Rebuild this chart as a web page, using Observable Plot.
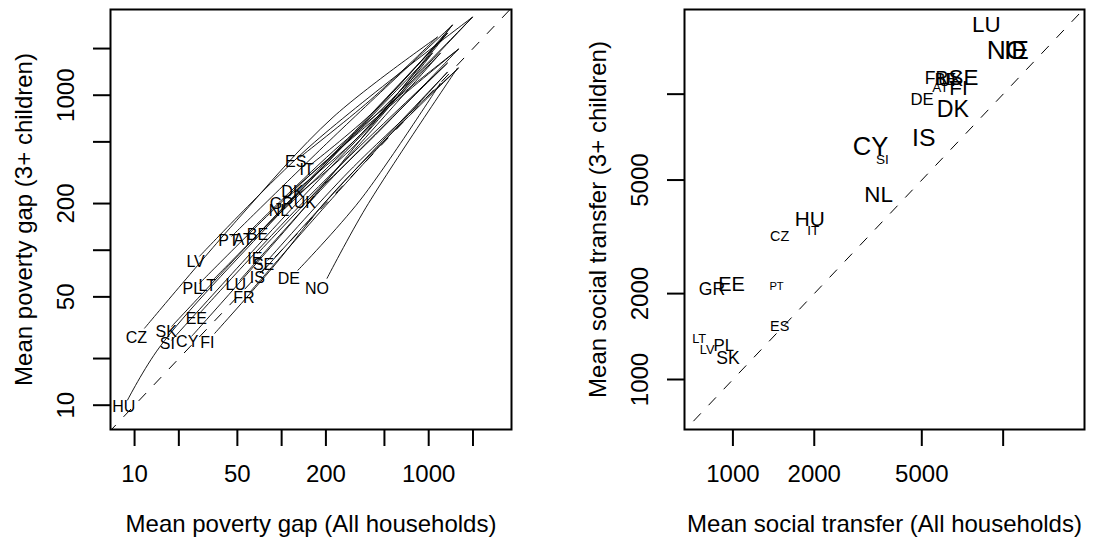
<!DOCTYPE html>
<html><head><meta charset="utf-8">
<script src="https://cdn.jsdelivr.net/npm/d3@7"></script>
<script src="https://cdn.jsdelivr.net/npm/@observablehq/plot@0.6"></script>
<style>
html,body{margin:0;padding:0;background:#fff;}
#wrap{position:relative;width:1100px;height:538px;overflow:hidden;background:#fff;}
#wrap svg{position:absolute;top:0;}
</style></head><body><div id="wrap"></div>
<script>
// ---- Left panel: mean poverty gap ----
const gapCountries = ["HU","CZ","SK","SI","CY","FI","EE","PL","LT","LU","FR","LV","PT","AT","BE","IE","SE","IS","DE","NO","ES","IT","DK","GR","UK","NL"];
const gapAll   = [8.45,10.3,16.4,16.7,22.8,31.2,26.3,24.7,31.2,48.8,55.3,26.0,43.5,54.7,68.4,65.8,75.4,68.4,112,174,124.8,148,118.5,100,144,95.9];
const gapLarge = [9.75,27.3,29.7,24.7,25.6,25.2,36.3,56.6,58.6,59.5,49.2,84.1,114.8,117.2,125,88.4,80,66.7,65.0,56.6,371,328,237.7,200,202,179.5];

// curves traced per country (poverty gap at rising thresholds)
const curveCountry = ["HU","HU","HU","HU","CZ","CZ","CZ","CZ","SK","SK","SK","SI","SI","SI","CY","CY","CY","FI","FI","FI","FI","EE","EE","EE","PL","PL","PL","LT","LT","LT","LU","LU","LU","FR","FR","FR","LV","LV","LV","PT","PT","PT","AT","AT","AT","BE","BE","BE","IE","IE","IE","SE","SE","SE","IS","IS","IS","DE","DE","DE","NO","NO","NO","ES","ES","ES","IT","IT","IT","DK","DK","DK","GR","GR","GR","UK","UK","UK","NL","NL","NL"];
const curveGapAll = [8.96,14.8,94.4,1058, 11.7,49.6,223.7,1144, 17.9,113.9,1339, 17.9,123.2,1200, 24.5,144.1,1448, 35.1,87.3,223.7,1592, 27.7,155.9,1339, 27.7,155.9,1592, 33.5,168.7,1339, 52.0,213.4,1339, 60.8,230.8,1339, 27.7,155.9,1982, 45.8,213.4,1448, 58.0,249.6,1592, 73.4,270.1,1982, 68.9,270.1,1200, 80.6,292.2,1592, 73.4,292.2,1339, 129.1,341.7,1200, 203.6,375.5,1567, 133.2,399.9,1144, 155.9,432.5,1448, 125.2,369.7,1982, 107.0,341.7,1339, 155.9,432.5,1592, 102.1,315.9,1058];
const curveGapLarge = [10.8,23.7,168.2,1866, 31.4,156.1,721.4,2367, 32.3,210.2,2512, 26.3,195.1,1866, 27.9,189.4,2829, 29.1,77.7,233.2,1494, 39.2,226.3,1609, 61.2,304.8,1981, 63.1,304.8,2512, 64.0,282.9,1609, 53.6,226.3,1407, 91.5,468.8,3186, 123.1,512.4,2829, 126.9,475.9,1981, 134.6,441.9,3186, 95.6,380.7,1866, 86.2,328.1,1494, 72.1,304.8,1407, 74.3,210.2,1195, 65.9,189.4,1494, 398.1,928.5,2367, 353.5,800.4,2829, 254.9,640.4,3186, 216.5,552.1,2512, 216.5,552.1,1981, 192.2,475.9,1866];

const gapTicks = [10,20,50,100,200,500,1000,2000];
const gapTickLabels = ["10","","50","","200","","1000",""];

// ---- Right panel: mean social transfer ----
const transferCountries = ["LU","NO","IE","FR","AT","BE","UK","SE","FI","DE","DK","IS","CY","SI","NL","HU","IT","CZ","GR","EE","PT","ES","LT","LV","PL","SK"];
const transferAll   = [8658,10285,11201,5662,5859,6114,6380,7129,6831,5012,6516,5082,3233,3573,3462,1925,1983,1490,836,988,1450,1490,750,803,926,958];
const transferLarge = [17450,14260,14260,11380,10580,11198,11198,11380,10495,9605,8839,6993,6536,5904,4426,3638,3337,3179,2068,2158,2112,1537,1392,1274,1319,1185];
const transferWeight = [1.4,1.65,1.65,1.1,0.85,1.0,1.1,1.4,1.3,1.05,1.45,1.55,1.6,0.85,1.4,1.3,0.85,0.9,1.1,1.25,0.7,0.9,0.8,0.8,1.05,1.1];

const transferTicks = [1000,2000,5000,10000];
const transferTickLabels = ["1000","2000","5000",""];

const identityRange = [1, 100000];

// ---- build tables ----
const gapRows = gapCountries.map((c,i)=>({country:c, x:gapAll[i], y:gapLarge[i]}));
const curveRows = curveCountry.map((c,i)=>({country:c, x:curveGapAll[i], y:curveGapLarge[i]}));
const transferRows = transferCountries.map((c,i)=>({country:c, x:transferAll[i], y:transferLarge[i], w:transferWeight[i]}));

const font = "'Liberation Sans', Arial, Helvetica, sans-serif";

function axes(ticks, labels, xLabel, yLabel) {
  const labelled = ticks.map((t,i)=>({t, s: labels[i]})).filter(d => d.s !== "");
  return [
    // tick lines and axis titles
    Plot.axisX({ticks, tickSize: 17, strokeWidth: 2, tickFormat: () => "", fontSize: 24,
      label: xLabel, labelAnchor: "center", labelArrow: "none", labelOffset: 102}),
    Plot.axisY({ticks, tickSize: 17, strokeWidth: 2, tickFormat: () => "", fontSize: 24,
      label: yLabel, labelAnchor: "center", labelArrow: "none", labelOffset: 96}),
    // tick labels, positioned by the scales
    Plot.text(labelled, {x: "t", text: "s", frameAnchor: "bottom", lineAnchor: "top", dy: 35, fontSize: 24, fill: "black"}),
    Plot.text(labelled, {y: "t", text: "s", frameAnchor: "left", rotate: -90, textAnchor: "middle", lineAnchor: "bottom", dx: -37, fontSize: 24, fill: "black"})
  ];
}

const left = Plot.plot({
  width: 550, height: 538,
  marginLeft: 110, marginRight: 39, marginTop: 9, marginBottom: 109,
  style: {fontFamily: font, fontSize: "24px", background: "white", color: "black", overflow: "visible"},
  x: {type: "log", domain: [6.86, 3656]},
  y: {type: "log", domain: [6.97, 3573]},
  marks: [
    Plot.line(identityRange, {x: d=>d, y: d=>d, stroke: "black", strokeWidth: 1, strokeDasharray: "10,12", clip: true}),
    Plot.line(curveRows, {x: "x", y: "y", z: "country", curve: "catmull-rom", stroke: "black", strokeWidth: 0.9, clip: true}),
    Plot.text(gapRows, {x: "x", y: "y", text: "country", fontSize: 16, fill: "black", fontFamily: font}),
    ...axes(gapTicks, gapTickLabels, "Mean poverty gap (All households)", "Mean poverty gap (3+ children)"),
    Plot.frame({stroke: "black", strokeWidth: 2})
  ]
});
left.style.left = "0px";

const right = Plot.plot({
  width: 550, height: 538,
  marginLeft: 134, marginRight: 16, marginTop: 9, marginBottom: 109,
  style: {fontFamily: font, fontSize: "24px", background: "white", color: "black", overflow: "visible"},
  x: {type: "log", domain: [662, 20000]},
  y: {type: "log", domain: [668, 19800]},
  marks: [
    Plot.line(identityRange, {x: d=>d, y: d=>d, stroke: "black", strokeWidth: 1, strokeDasharray: "10,12", clip: true}),
    Plot.text(transferRows, {x: "x", y: "y", text: "country", fontSize: d => 16 * d.w, fill: "black", fontFamily: font}),
    ...axes(transferTicks, transferTickLabels, "Mean social transfer (All households)", "Mean social transfer (3+ children)"),
    Plot.frame({stroke: "black", strokeWidth: 2})
  ]
});
right.style.left = "550px";

const wrap = document.getElementById("wrap");
wrap.appendChild(left);
wrap.appendChild(right);
</script>
</body></html>
